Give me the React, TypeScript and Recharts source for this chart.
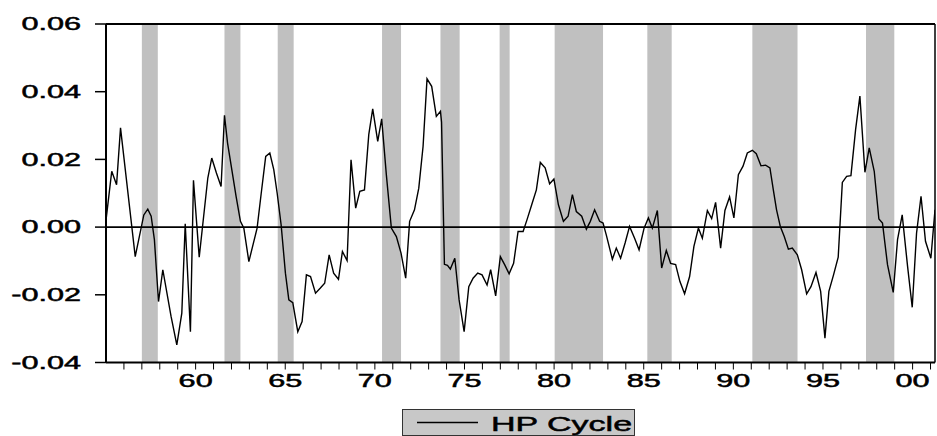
import React from "react";
import {
  ComposedChart,
  Line,
  XAxis,
  YAxis,
  ReferenceArea,
  ReferenceLine,
} from "recharts";

// observation dates (decimal years) and HP-filtered cycle values
const periods = [
  1955.0, 1955.32, 1955.59, 1955.81, 1956.63, 1957.11, 1957.33, 1957.52, 1957.7, 1957.93,
  1958.17, 1958.63, 1958.95, 1959.23, 1959.42, 1959.71, 1959.88, 1960.2, 1960.68, 1960.9,
  1961.16, 1961.42, 1961.61, 1961.78, 1962.26, 1962.5, 1962.69, 1962.97, 1963.43, 1963.66,
  1963.91, 1964.14, 1964.36, 1964.55, 1964.77, 1965.01, 1965.2, 1965.42, 1965.7, 1965.94,
  1966.18, 1966.41, 1966.69, 1966.96, 1967.2, 1967.45, 1967.7, 1967.97, 1968.19, 1968.45,
  1968.67, 1968.93, 1969.16, 1969.42, 1969.66, 1969.88, 1970.16, 1970.38, 1970.64, 1970.92,
  1971.2, 1971.46, 1971.72, 1971.94, 1972.21, 1972.45, 1972.69, 1972.91, 1973.17, 1973.43,
  1973.66, 1973.72, 1973.88, 1974.05, 1974.21, 1974.46, 1974.7, 1974.98, 1975.24, 1975.48,
  1975.74, 1975.98, 1976.26, 1976.46, 1976.74, 1977.0, 1977.24, 1977.49, 1977.74, 1977.99,
  1978.27, 1978.49, 1978.75, 1979.01, 1979.23, 1979.5, 1979.75, 1979.99, 1980.24, 1980.52,
  1980.78, 1981.02, 1981.24, 1981.54, 1981.8, 1982.02, 1982.26, 1982.54, 1982.73, 1982.91,
  1983.25, 1983.47, 1983.71, 1983.96, 1984.21, 1984.49, 1984.74, 1985.02, 1985.26, 1985.48,
  1985.76, 1986.0, 1986.26, 1986.5, 1986.78, 1987.02, 1987.28, 1987.56, 1987.8, 1988.05,
  1988.27, 1988.55, 1988.79, 1989.01, 1989.29, 1989.53, 1989.79, 1990.03, 1990.28, 1990.54,
  1990.78, 1991.06, 1991.28, 1991.54, 1991.8, 1992.04, 1992.23, 1992.41, 1992.62, 1992.84,
  1993.07, 1993.29, 1993.57, 1993.81, 1994.09, 1994.33, 1994.61, 1994.87, 1995.11, 1995.33,
  1995.59, 1995.85, 1996.08, 1996.32, 1996.56, 1996.82, 1997.06, 1997.34, 1997.58, 1997.86,
  1998.12, 1998.32, 1998.6, 1998.92, 1999.16, 1999.42, 1999.72, 1999.98, 2000.22, 2000.47,
  2000.72, 2001.02, 2001.25,
];

const hpCycle = [
  0.002, 0.0165, 0.0125, 0.0293, -0.0087, 0.0036, 0.0053, 0.0032, -0.0037, -0.022,
  -0.0126, -0.0264, -0.0348, -0.0254, 0.001, -0.0309, 0.0138, -0.0089, 0.0145, 0.0204,
  0.016, 0.012, 0.033, 0.0249, 0.009, 0.0017, -0.0003, -0.0102, -0.0003, 0.01,
  0.0209, 0.0219, 0.017, 0.01, 0.0007, -0.0136, -0.0215, -0.0223, -0.0309, -0.0279,
  -0.0141, -0.0146, -0.0195, -0.018, -0.0166, -0.0082, -0.0136, -0.0154, -0.0072, -0.0099,
  0.0199, 0.0056, 0.0106, 0.011, 0.0273, 0.0349, 0.0253, 0.032, 0.0155, -0.0003,
  -0.0028, -0.0077, -0.0151, 0.0017, 0.0051, 0.0115, 0.0239, 0.0438, 0.0416, 0.0327,
  0.0342, 0.031, -0.011, -0.0113, -0.0124, -0.0092, -0.0215, -0.0309, -0.0176, -0.0151,
  -0.0136, -0.0141, -0.0171, -0.0126, -0.0203, -0.0087, -0.0111, -0.0138, -0.0107, -0.0013,
  -0.0013, 0.0022, 0.0066, 0.011, 0.0191, 0.0175, 0.0128, 0.0142, 0.0066, 0.0017,
  0.0032, 0.0096, 0.0046, 0.0032, -0.0006, 0.0017, 0.0051, 0.0017, 0.0012, -0.0023,
  -0.0095, -0.0062, -0.0092, -0.0047, 0.0002, -0.0033, -0.0067, -0.0003, 0.0027, -0.0003,
  0.0049, -0.0121, -0.0069, -0.0107, -0.0111, -0.0161, -0.0197, -0.0146, -0.0057, -0.0003,
  -0.0033, 0.0049, 0.0025, 0.0073, -0.0062, 0.0049, 0.0089, 0.0027, 0.0155, 0.018,
  0.0219, 0.0227, 0.0217, 0.0181, 0.0183, 0.0175, 0.011, 0.0051, 0.0002, -0.0028,
  -0.0065, -0.0062, -0.0082, -0.0126, -0.0197, -0.0176, -0.0134, -0.019, -0.0328, -0.019,
  -0.0141, -0.0089, 0.0132, 0.015, 0.0152, 0.0288, 0.0387, 0.0162, 0.0234, 0.0165,
  0.0024, 0.0012, -0.0111, -0.0193, -0.0037, 0.0036, -0.0116, -0.0237, -0.0018, 0.0091,
  -0.0042, -0.0092, 0.0051,
];

// shaded downturn periods
const bandStarts = [1957.0, 1961.61, 1964.58, 1970.4, 1973.66, 1976.96, 1980.03, 1985.2, 1991.06, 1997.4];
const bandEnds = [1957.89, 1962.5, 1965.47, 1971.46, 1974.73, 1977.52, 1982.73, 1986.56, 1993.58, 1998.98];

const yearTicks = Array.from({ length: 46 }, (_, i) => 1956 + i);
const labelYears = [1960, 1965, 1970, 1975, 1980, 1985, 1990, 1995, 2000];
const labelText = ["60", "65", "70", "75", "80", "85", "90", "95", "00"];
const yTicks = [-0.04, -0.02, 0, 0.02, 0.04, 0.06];

const X_MIN = 1955;
const X_MAX = 2001.25;
const FONT = "'Liberation Sans', Arial, sans-serif";
const STRETCH = 1.7;

const rows = periods.map((t, i) => ({ t, v: hpCycle[i] }));

const XTick = (props: any) => {
  const { x, y, payload } = props;
  const i = labelYears.indexOf(payload.value);
  if (i < 0) return <g />;
  return (
    <g transform={`translate(${x},${y})`}>
      <text
        transform={`scale(${STRETCH},1)`}
        textAnchor="middle"
        dy="0.71em"
        fontSize={18}
        fontFamily={FONT}
        fill="#000"
        stroke="#000"
        strokeWidth={0.5}
      >
        {labelText[i]}
      </text>
    </g>
  );
};

const YTick = (props: any) => {
  const { x, y, payload } = props;
  return (
    <g transform={`translate(${x},${y})`}>
      <text
        transform={`scale(${STRETCH},1)`}
        textAnchor="end"
        dy="0.35em"
        fontSize={18}
        fontFamily={FONT}
        fill="#000"
        stroke="#000"
        strokeWidth={0.5}
      >
        {payload.value.toFixed(2)}
      </text>
    </g>
  );
};

export default function App() {
  return (
    <div style={{ position: "absolute", left: 0, top: 0, width: 937, height: 436, background: "#fff" }}>
      <ComposedChart
        width={937}
        height={436}
        data={rows}
        margin={{ top: 24, right: 2, bottom: 0, left: 0 }}
      >
        {bandStarts.map((s, i) => (
          <ReferenceArea
            key={i}
            x1={s}
            x2={bandEnds[i]}
            y1={-0.04}
            y2={0.06}
            fill="#c0c0c0"
            fillOpacity={1}
            stroke="none"
            ifOverflow="hidden"
          />
        ))}
        <XAxis
          dataKey="t"
          type="number"
          domain={[X_MIN, X_MAX]}
          ticks={yearTicks}
          interval={0}
          allowDataOverflow
          height={73.5}
          tickSize={7}
          tickMargin={5}
          axisLine={{ stroke: "#000", strokeWidth: 2 }}
          tickLine={{ stroke: "#000", strokeWidth: 1 }}
          tick={XTick}
        />
        <YAxis
          type="number"
          domain={[-0.04, 0.06]}
          ticks={yTicks}
          width={106}
          tickSize={11}
          tickMargin={14}
          axisLine={{ stroke: "#000", strokeWidth: 2 }}
          tickLine={{ stroke: "#000", strokeWidth: 1.5 }}
          tick={YTick}
        />
        <ReferenceLine y={0.06} stroke="#000" strokeWidth={2} />
        <ReferenceLine x={X_MAX} stroke="#000" strokeWidth={1.5} />
        <ReferenceLine y={0} stroke="#000" strokeWidth={1.6} />
        <Line
          type="linear"
          dataKey="v"
          stroke="#000"
          strokeWidth={1.4}
          dot={false}
          isAnimationActive={false}
        />
      </ComposedChart>
      <svg
        width={234}
        height={27}
        style={{ position: "absolute", left: 402, top: 409 }}
      >
        <rect x={0.5} y={0.5} width={232} height={26} fill="#c8c8c8" stroke="#333" strokeWidth={1} />
        <line x1={15} y1={13.5} x2={76} y2={13.5} stroke="#000" strokeWidth={1.3} />
        <text
          transform={`translate(89,22) scale(1.62,1)`}
          fontSize={21}
          fontFamily={FONT}
          fill="#000"
          stroke="#000"
          strokeWidth={0.5}
        >
          HP Cycle
        </text>
      </svg>
    </div>
  );
}
